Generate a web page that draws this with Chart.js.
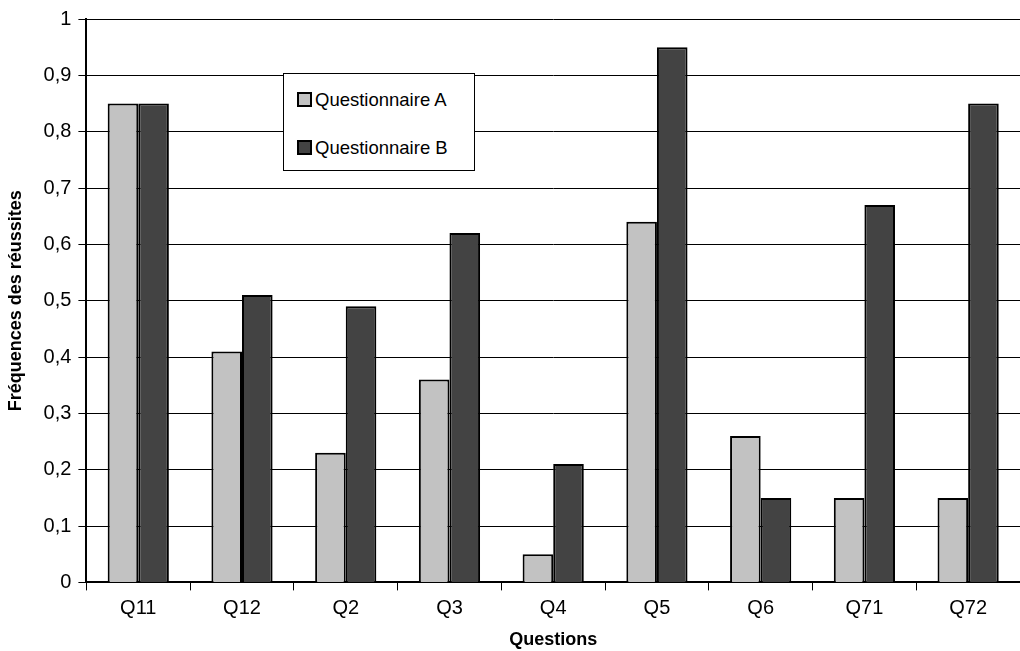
<!DOCTYPE html>
<html lang="fr">
<head>
    <meta charset="UTF-8">
    <title>Chart</title>
    <style>
        body {
            margin: 0;
            padding: 0;
            overflow: hidden;
            background: #fff;
        }
        #wrap {
            position: relative;
            width: 1020px;
            height: 651px;
        }
        #legend {
            position: absolute;
            left: 283px;
            top: 73px;
            width: 192px;
            height: 98px;
            border: 1px solid #000;
            background: #fff;
            font: 18.5px "Liberation Sans", Arial, sans-serif;
            box-sizing: border-box;
            padding-top: 15px;
            padding-left: 13px;
        }
        #legend div {
            height: 48px;
            white-space: nowrap;
        }
        #legend span.box {
            display: inline-block;
            width: 11px;
            height: 11px;
            border: 2px solid #000;
            margin-right: 3px;
            vertical-align: -1px;
        }
    </style>
    <script src="https://cdn.jsdelivr.net/npm/chart.js@4/dist/chart.umd.min.js"></script>
</head>
<body>
<div id="wrap">
    <canvas id="chart" width="1020" height="651"></canvas>
    <div id="legend"></div>
</div>
<script>
    const categories = ['Q11', 'Q12', 'Q2', 'Q3', 'Q4', 'Q5', 'Q6', 'Q71', 'Q72'];
    const questionnaireA = [0.85, 0.41, 0.23, 0.36, 0.05, 0.64, 0.26, 0.15, 0.15];
    const questionnaireB = [0.85, 0.51, 0.49, 0.62, 0.21, 0.95, 0.15, 0.67, 0.85];
    const seriesNames = ['Questionnaire A', 'Questionnaire B'];
    const seriesColors = ['#c2c2c2', '#434343'];

    const family = '"Liberation Sans", Arial, sans-serif';
    const tickFont = { family: family, size: 20 };
    const titleFont = { family: family, size: 18, weight: 'bold' };

    const config = {
        type: 'bar',
        data: {
            labels: categories,
            datasets: [
                { label: seriesNames[0], data: questionnaireA, backgroundColor: seriesColors[0],
                  borderColor: '#000', borderWidth: 2, borderSkipped: 'start', barPercentage: 1, categoryPercentage: 0.59 },
                { label: seriesNames[1], data: questionnaireB, backgroundColor: seriesColors[1],
                  borderColor: '#000', borderWidth: 2, borderSkipped: 'start', barPercentage: 1, categoryPercentage: 0.59 }
            ]
        },
        options: {
            responsive: false,
            animation: false,
            layout: { padding: { top: 18, right: 0, left: 5, bottom: 0 } },
            plugins: {
                legend: { display: false },
                tooltip: { enabled: false }
            },
            scales: {
                x: {
                    offset: true,
                    grid: { offset: true, drawOnChartArea: false, drawTicks: true, tickLength: 8, color: '#000' },
                    border: { color: '#000', width: 2 },
                    ticks: { color: '#000', font: tickFont, padding: 6 },
                    title: { display: true, text: 'Questions', color: '#000', font: titleFont,
                             padding: { top: 3, bottom: 0 } }
                },
                y: {
                    min: 0,
                    max: 1,
                    ticks: {
                        stepSize: 0.1,
                        color: '#000',
                        font: tickFont,
                        padding: 7,
                        callback: function (value) {
                            return (Math.round(value * 10) / 10).toString().replace('.', ',');
                        }
                    },
                    grid: { color: '#000', lineWidth: 1, tickLength: 8 },
                    border: { color: '#000', width: 2 },
                    title: { display: true, text: 'Fréquences des réussites', color: '#000', font: titleFont,
                             padding: { top: 0, bottom: 10 } }
                }
            }
        }
    };

    new Chart(document.getElementById('chart'), config);

    const legend = document.getElementById('legend');
    seriesNames.forEach(function (name, i) {
        const row = document.createElement('div');
        const box = document.createElement('span');
        box.className = 'box';
        box.style.background = seriesColors[i];
        row.appendChild(box);
        row.appendChild(document.createTextNode(name));
        legend.appendChild(row);
    });
</script>
</body>
</html>
